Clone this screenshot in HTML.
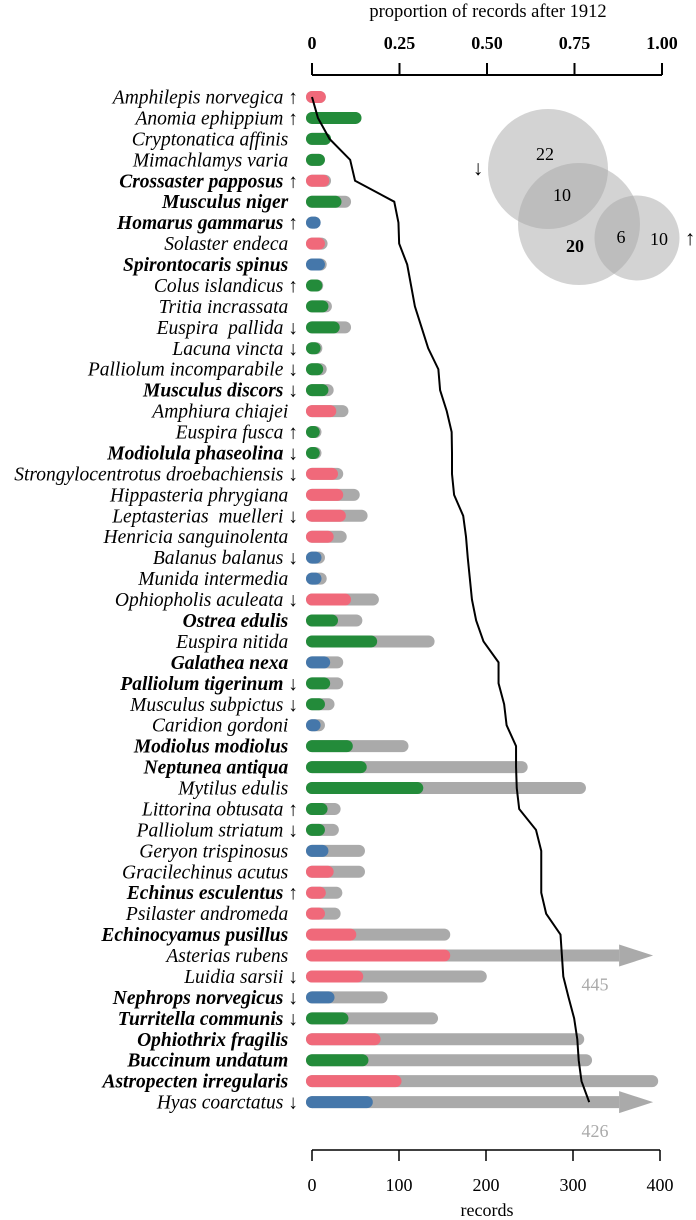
<!DOCTYPE html>
<html><head><meta charset="utf-8"><style>
html,body{margin:0;padding:0;background:#fff;}
svg{display:block;font-family:"Liberation Serif",serif;}
</style></head><body>
<svg id="chart" width="696" height="1220" viewBox="0 0 696 1220" xmlns="http://www.w3.org/2000/svg">
<g id="top-axis"></g>
<g id="bottom-axis"></g>
<g id="labels"></g>
<g id="bars"></g>
<g id="line"></g>
<g id="venn"></g>
</svg>
<script>
const species = ["Amphilepis norvegica","Anomia ephippium","Cryptonatica affinis","Mimachlamys varia","Crossaster papposus","Musculus niger","Homarus gammarus","Solaster endeca","Spirontocaris spinus","Colus islandicus","Tritia incrassata","Euspira  pallida","Lacuna vincta","Palliolum incomparabile","Musculus discors","Amphiura chiajei","Euspira fusca","Modiolula phaseolina","Strongylocentrotus droebachiensis","Hippasteria phrygiana","Leptasterias  muelleri","Henricia sanguinolenta","Balanus balanus","Munida intermedia","Ophiopholis aculeata","Ostrea edulis","Euspira nitida","Galathea nexa","Palliolum tigerinum","Musculus subpictus","Caridion gordoni","Modiolus modiolus","Neptunea antiqua","Mytilus edulis","Littorina obtusata","Palliolum striatum","Geryon trispinosus","Gracilechinus acutus","Echinus esculentus","Psilaster andromeda","Echinocyamus pusillus","Asterias rubens","Luidia sarsii","Nephrops norvegicus","Turritella communis","Ophiothrix fragilis","Buccinum undatum","Astropecten irregularis","Hyas coarctatus"];
const trend = ["u","u","","","u","","u","","","u","","d","d","d","d","","u","d","d","","d","","d","","d","","","","d","d","","","","","u","d","","","u","","","","d","d","d","","","","d"];
const bold = [0,0,0,0,1,1,1,0,1,0,0,0,0,0,1,0,0,1,0,0,0,0,0,0,0,1,0,1,1,0,0,1,1,0,0,0,0,0,1,0,1,0,0,1,1,1,1,1,0];
const group = ["p","g","g","g","p","g","b","p","b","g","g","g","g","g","g","p","g","g","p","p","p","p","b","b","p","g","g","b","g","g","b","g","g","g","g","g","b","p","p","p","p","p","p","b","g","p","g","p","b"];
const totalRecords = [9,50,15,8,15,38,3,11,10,6,16,38,5,10,18,35,4,4,29,48,57,33,8,10,70,51,134,29,29,19,8,104,241,308,26,24,54,54,28,26,152,445,194,80,138,306,315,391,426];
const recentRecords = [9,50,15,8,13,27,3,8,8,5,12,25,3,6,12,21,2,2,23,29,32,18,4,4,38,23,68,14,14,8,3,40,56,121,11,8,12,18,9,8,44,152,52,19,35,72,58,96,63];
const lineProportion = [0,0.017,0.05,0.109,0.123,0.235,0.247,0.249,0.272,0.283,0.294,0.313,0.332,0.361,0.366,0.385,0.399,0.4,0.4,0.406,0.432,0.44,0.445,0.451,0.457,0.469,0.49,0.533,0.533,0.549,0.556,0.583,0.583,0.585,0.592,0.64,0.655,0.655,0.655,0.669,0.71,0.714,0.718,0.733,0.749,0.758,0.762,0.77,0.792];
const recordTicks = [0,100,200,300,400];
const propTicks = ["0","0.25","0.50","0.75","1.00"];
const propTickValues = [0,0.25,0.5,0.75,1];

const NS="http://www.w3.org/2000/svg";
const colors={p:"#f0697a",g:"#238b3a",b:"#4577aa"};
const xR=v=>312+v*0.87;
const xP=p=>312+p*350;
const yRow=i=>97+i*20.94;
const AXMAX=353;
function mk(tag,parent,attrs){const e=document.createElementNS(NS,tag);for(const k in attrs)e.setAttribute(k,attrs[k]);parent.appendChild(e);return e;}

const ta=document.getElementById('top-axis');
let e=mk('line',ta,{x1:xP(0),x2:xP(1),y1:75,y2:75,stroke:'#000','stroke-width':2});


propTickValues.forEach((p,i)=>{
  let t=mk('line',ta,{x1:xP(p),x2:xP(p),y1:63,y2:75,stroke:'#000','stroke-width':2});
  
  
  let l=mk('text',ta,{x:xP(p),y:49,'text-anchor':'middle','font-size':18,'font-weight':'bold'});
  l.textContent=propTicks[i];
  
  
});
e=mk('text',ta,{x:488,y:17,'text-anchor':'middle','font-size':18.5});
e.textContent='proportion of records after 1912';



const ba=document.getElementById('bottom-axis');
e=mk('line',ba,{x1:xP(0),x2:xR(400),y1:1150,y2:1150,stroke:'#000','stroke-width':1.5});


recordTicks.forEach(v=>{
  let t=mk('line',ba,{x1:xR(v),x2:xR(v),y1:1150,y2:1161,stroke:'#000','stroke-width':1.5});
  
  
  let l=mk('text',ba,{x:xR(v),y:1191,'text-anchor':'middle','font-size':18});
  l.textContent=String(v);
  
  
});
e=mk('text',ba,{x:487,y:1216,'text-anchor':'middle','font-size':18});
e.textContent='records';



const lg=document.getElementById('labels');
species.forEach((s,i)=>{
  const arrow=trend[i]==='u'?'\u2191':trend[i]==='d'?'\u2193':'\u00a0';
  let t=mk('text',lg,{x:298,y:yRow(i)+6.5,'text-anchor':'end','font-size':19.5,'font-style':'italic','font-weight':bold[i]?'bold':'normal'});
  t.setAttribute('xml:space','preserve');
  t.textContent=s.replace(/  /g,'\u00a0 ')+'\u00a0'+arrow;
  
  
});

const bg=document.getElementById('bars');
species.forEach((s,i)=>{
  const y=yRow(i);
  const tot=totalRecords[i];
  const over=tot>400;
  const end=over?AXMAX:tot;
  let b=mk('line',bg,{x1:xR(0),x2:xR(end),y1:y,y2:y,stroke:'#aaaaaa','stroke-width':12,'stroke-linecap':over?'butt':'round'});
  
  
  if(over){
    let cap=mk('circle',bg,{cx:xR(0),cy:y,r:6,fill:'#aaaaaa'});
    
    
    let h=mk('polygon',bg,{points:`${xR(end)},${y-11} ${xR(end)+34},${y} ${xR(end)},${y+11}`,fill:'#aaaaaa'});
    
    
    let n=mk('text',bg,{x:595,y:y+35,'text-anchor':'middle','font-size':18,fill:'#aaaaaa'});
    n.textContent=String(tot);
    
    
  }
  let c=mk('line',bg,{x1:xR(0),x2:xR(recentRecords[i]),y1:y,y2:y,stroke:colors[group[i]],'stroke-width':12,'stroke-linecap':'round'});
  
  
});

const lng=document.getElementById('line');
const pts=lineProportion.map((p,i)=>xP(p)+','+yRow(i)).join(' ');
e=mk('polyline',lng,{points:pts,fill:'none',stroke:'#000','stroke-width':2});



const vg=document.getElementById('venn');
[[548,169,60],[579,224,61],[637,238,42.5]].forEach(c=>{
  let ci=mk('circle',vg,{cx:c[0],cy:c[1],r:c[2],fill:'#a8a8a8','fill-opacity':0.5});
  
  
});
[["22",545,160,0,18],["10",562,201,0,18],["20",575,252,1,18],["6",621,243,0,18],["10",659,245,0,18],["\u2193",478,175,0,21],["\u2191",690,245,0,21]].forEach(l=>{
  let t=mk('text',vg,{x:l[1],y:l[2],'text-anchor':'middle','font-size':l[4],'font-weight':l[3]?'bold':'normal'});
  t.textContent=l[0];
  
  
});
</script>
</body></html>
